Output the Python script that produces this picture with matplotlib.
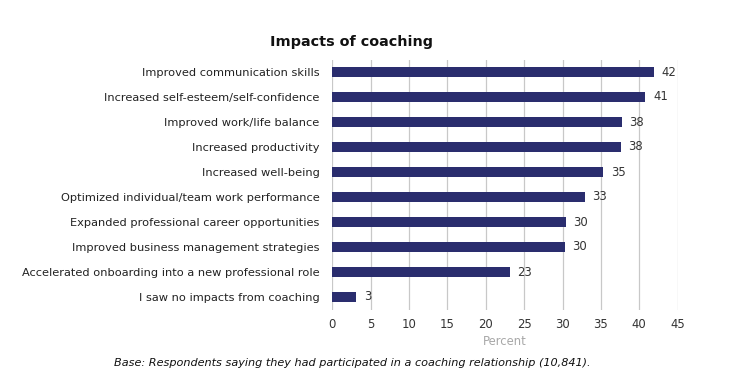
import matplotlib
matplotlib.use("Agg")
import matplotlib.pyplot as plt

categories = [
    "Improved communication skills",
    "Increased self-esteem/self-confidence",
    "Improved work/life balance",
    "Increased productivity",
    "Increased well-being",
    "Optimized individual/team work performance",
    "Expanded professional career opportunities",
    "Improved business management strategies",
    "Accelerated onboarding into a new professional role",
    "I saw no impacts from coaching",
]
values = [41.9, 40.8, 37.7, 37.6, 35.3, 32.9, 30.4, 30.3, 23.1, 3.1]
labels = ["42", "41", "38", "38", "35", "33", "30", "30", "23", "3"]
xticks = [0, 5, 10, 15, 20, 25, 30, 35, 40, 45]

plt.rcParams['font.family'] = ['DejaVu Sans']

fig = plt.figure(figsize=(7.48, 3.84), dpi=100)
ax = fig.add_axes([332/748, 1-309.5/384, 346/748, 250/384])

ys = list(range(len(categories)))
ax.barh(ys, values, height=0.37, color="#2a2d6e", zorder=3)
for y, v, l in zip(ys, values, labels):
    ax.text(v + 1.0, y, l, va="center", ha="left", fontsize=8.4, color="#333333")

ax.set_ylim(len(categories) - 0.5, -0.5)
ax.set_xlim(-0.05, 45.05)
ax.set_yticks(ys)
ax.set_yticklabels(categories, fontsize=8.2, color="#222222")
ax.set_xticks(xticks)
ax.set_xticklabels([str(t) for t in xticks], fontsize=8.4, color="#333333")
ax.tick_params(axis="y", length=0, pad=9)
ax.tick_params(axis="x", length=0, pad=6)
for s in ax.spines.values():
    s.set_visible(False)
ax.grid(axis="x", color="#c8c8c8", linewidth=0.9, zorder=0)
ax.set_xlabel("Percent", fontsize=8.4, color="#a8a8a8", labelpad=3)

fig.text(352/748, 1-42/384, "Impacts of coaching", ha="center", va="center",
         fontsize=10.4, fontweight="bold", color="#111111")
fig.text(352/748, 1-363/384,
         "Base: Respondents saying they had participated in a coaching relationship (10,841).",
         ha="center", va="center", fontsize=8.1, style="italic", color="#111111")

fig.savefig("out.png", dpi=100)
